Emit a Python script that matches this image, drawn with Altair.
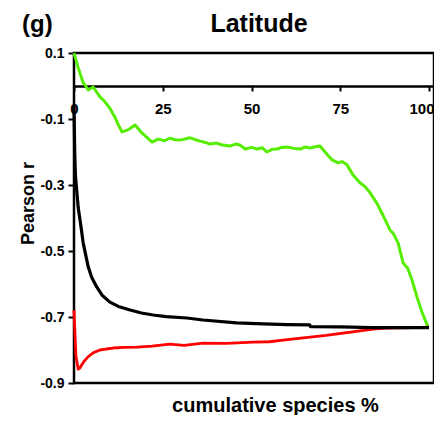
import altair as alt
import pandas as pd

# ---- data ----
black_x = [0, 0.2, 0.4, 0.75, 1.2, 1.7, 2.6, 4.0, 5.0, 6.4, 8.0, 10.1, 12.5, 15.8, 19.0, 22.3,
           26.0, 31.8, 36.3, 45.8, 53.3, 60.0, 66.4, 66.6, 75.0, 84.0, 100.0]
black_y = [-0.06, -0.2, -0.27, -0.315, -0.37, -0.406, -0.476, -0.548, -0.58, -0.609, -0.635,
           -0.655, -0.668, -0.679, -0.688, -0.694, -0.699, -0.703, -0.709, -0.718, -0.721,
           -0.723, -0.724, -0.729, -0.730, -0.732, -0.732]

red_x = [0, 0.3, 0.56, 1.2, 1.6, 2.2, 3.0, 4.0, 5.5, 7.3, 9.0, 11.0, 14.0, 17.7, 22.0, 27.0,
         31.0, 36.3, 43.0, 50.4, 55.0, 58.9, 62.0, 66.5, 71.0, 75.8, 80.0, 84.2, 88.0, 92.7, 100.0]
red_y = [-0.679, -0.76, -0.82, -0.858, -0.855, -0.845, -0.832, -0.82, -0.808, -0.80, -0.797,
         -0.794, -0.792, -0.791, -0.788, -0.782, -0.786, -0.779, -0.780, -0.776, -0.775, -0.770,
         -0.766, -0.761, -0.756, -0.749, -0.743, -0.737, -0.734, -0.733, -0.731]

green_x = [0, 1.1, 2.5, 3.3, 4.0, 5.4, 7.3, 8.5, 10.0, 11.5, 12.5, 13.5, 15.2, 17.2, 19.2, 22.0,
           23.7, 25.5, 27.0, 28.5, 29.9, 32.7, 34.0, 35.5, 37.0, 38.3, 40.2, 41.5, 43.9, 45.5,
           46.8, 48.2, 50.0, 51.5, 53.0, 54.3, 55.8, 57.2, 58.5, 60.0, 62.0, 63.7, 65.0, 66.5,
           68.0, 69.3, 70.7, 72.7, 74.4, 75.5, 76.9, 78.6, 80.6, 82.0, 83.4, 85.3, 87.0, 89.0,
           90.0, 91.3, 92.7, 94.0, 95.2, 96.6, 98.0, 99.7]
green_y = [0.10, 0.058, 0.012, 0.0, -0.012, -0.003, -0.033, -0.045, -0.066, -0.094, -0.118,
           -0.139, -0.133, -0.118, -0.143, -0.170, -0.161, -0.166, -0.158, -0.163, -0.164,
           -0.157, -0.162, -0.167, -0.171, -0.176, -0.173, -0.178, -0.182, -0.176, -0.179,
           -0.191, -0.186, -0.191, -0.187, -0.200, -0.192, -0.191, -0.186, -0.185, -0.189,
           -0.191, -0.185, -0.188, -0.184, -0.182, -0.200, -0.224, -0.233, -0.229, -0.239,
           -0.270, -0.294, -0.305, -0.324, -0.355, -0.391, -0.436, -0.448, -0.476, -0.536,
           -0.552, -0.588, -0.639, -0.685, -0.730]

x_ticks = [0, 25, 50, 75, 100]
y_ticks = [0.1, -0.1, -0.3, -0.5, -0.7, -0.9]

panel_label = ["(g)"]
panel_title = ["Latitude"]

FONT = "Liberation Sans"

xscale = alt.Scale(domain=[0, 101.4], nice=False, zero=False)
yscale = alt.Scale(domain=[-0.9, 0.1], nice=False, zero=False)

x_axis = alt.Axis(
    values=x_ticks, offset=-297, tickSize=5, tickWidth=2, tickColor="black",
    domainColor="black", domainWidth=2.5, grid=False, labelFlush=False, labelOverlap=False,
    labelAlign={"condition": {"test": "datum.value == 100", "value": "right"}, "value": "center"},
    labelOffset={"condition": {"test": "datum.value == 100", "value": 5}, "value": 0},
    labelPadding=10, labelFont=FONT, labelFontSize=15, labelFontWeight="bold", labelColor="black",
    title="cumulative species %", titleFont=FONT, titleFontSize=20, titleFontWeight="bold",
    titleColor="black", titleX=201, titleY=325, titleBaseline="alphabetic", titleAlign="center",
)
y_axis = alt.Axis(
    values=y_ticks, tickSize=6, tickWidth=2, tickColor="black", domain=False, grid=False,
    labelExpr="datum.value < 0 ? '-' + format(-datum.value, '.1f') : format(datum.value, '.1f')",
    labelPadding=4, labelFont=FONT, labelFontSize=14, labelFontWeight="bold", labelColor="black",
    title="Pearson r", titleFont=FONT, titleFontSize=18, titleFontWeight="bold", titleColor="black",
    titleX=-41, titleY=150, titleAngle=270, titleBaseline="alphabetic", titleAlign="center",
)


def line(xs, ys, color, width):
    df = pd.DataFrame({"x": xs, "y": ys})
    return alt.Chart(df).mark_line(color=color, strokeWidth=width, strokeJoin="round").encode(
        x=alt.X("x:Q", scale=xscale, axis=x_axis),
        y=alt.Y("y:Q", scale=yscale, axis=y_axis),
    )


green = line(green_x, green_y, "#55ee00", 3)
red = line(red_x, red_y, "#ff0000", 2.8)
black = line(black_x, black_y, "#000000", 3.2)

lab = alt.Chart(pd.DataFrame({"t": panel_label})).mark_text(
    font=FONT, fontSize=24, fontWeight="bold", align="left", baseline="alphabetic", color="black"
).encode(x=alt.value(-52), y=alt.value(-21), text="t:N")

ttl = alt.Chart(pd.DataFrame({"t": panel_title})).mark_text(
    font=FONT, fontSize=25, fontWeight="bold", align="center", baseline="alphabetic", color="black"
).encode(x=alt.value(185), y=alt.value(-21), text="t:N")

chart = alt.layer(green, red, black, lab, ttl).properties(
    width=360, height=330,
    autosize=alt.AutoSizeParams(type="none"),
    padding={"left": 66, "top": 45, "right": 0, "bottom": 32},
).configure(background="white").configure_view(stroke="black", strokeWidth=2.5)

chart.save("out.html", embed_options={"renderer": "svg", "actions": False})
